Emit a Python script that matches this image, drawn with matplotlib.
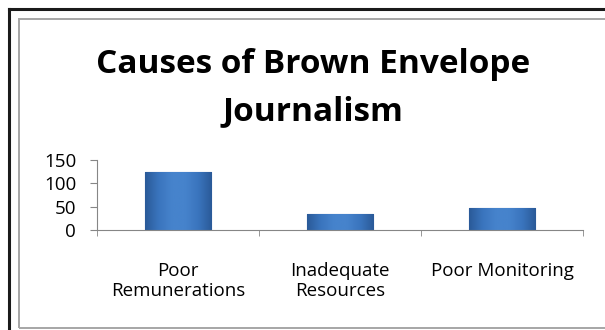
import numpy as np
import matplotlib.pyplot as plt
from matplotlib.patches import Rectangle
from matplotlib.lines import Line2D
from matplotlib.colors import LinearSegmentedColormap

categories = ['Poor\nRemunerations', 'Inadequate\nResources', 'Poor Monitoring']
counts = [125, 35, 48]
y_ticks = [0, 50, 100, 150]

plt.rcParams['font.family'] = ['Open Sans', 'DejaVu Sans']

W, H = 605, 330
fig = plt.figure(figsize=(W / 100, H / 100), dpi=100)

# Frames around the chart (black outer, grey inner).
fig.add_artist(Line2D([8.5 / W, 8.5 / W], [0, 1 - 8.5 / H], color='#1a1a1a', lw=2.2))
fig.add_artist(Line2D([8.5 / W, 1], [1 - 8.5 / H, 1 - 8.5 / H], color='#1a1a1a', lw=2.2))
fig.add_artist(Rectangle((18.5 / W, 2 / H), 1.2, 1 - 20.5 / H, transform=fig.transFigure,
                         fill=False, edgecolor='#a6a6a6', lw=1.4))

ax = fig.add_axes([97 / W, 1 - 230 / H, (583 - 97) / W, 70 / H])
x = list(range(len(categories)))
bars = ax.bar(x, counts, width=0.41, color='#3d77c2', edgecolor='#2b5b96', linewidth=0.8)

# Bevelled look: horizontal gradient clipped to each bar.
cmap = LinearSegmentedColormap.from_list(
    'bevel', ['#2a5a98', '#3a74bd', '#4683cc', '#4683cc', '#3a74bd', '#2a5a98'])
grad = np.linspace(0, 1, 256).reshape(1, -1)
for b in bars:
    im = ax.imshow(grad, cmap=cmap, aspect='auto', zorder=b.get_zorder() + 0.1,
                   extent=[b.get_x(), b.get_x() + b.get_width(), 0, b.get_height()])
    im.set_clip_path(b)
ax.set_aspect('auto')

ax.set_xlim(-0.5, len(categories) - 0.5)
ax.set_ylim(0, 150)
ax.set_yticks(y_ticks)
ax.set_xticks(x)
ax.set_xticklabels(categories, fontsize=13.5, linespacing=1.15)
ax.set_xticks([-0.5, 0.5, 1.5, 2.5], minor=True)
ax.tick_params(axis='x', which='major', length=0, pad=23)
ax.tick_params(axis='x', which='minor', length=4.5, color='#868686', direction='out')
ax.tick_params(axis='y', labelsize=13.5, length=5, color='#868686', pad=10)
for side in ['top', 'right']:
    ax.spines[side].set_visible(False)
for side in ['left', 'bottom']:
    ax.spines[side].set_color('#868686')

fig.text(313 / W, 1 - 73 / H, 'Causes of Brown Envelope', ha='center', va='baseline',
         fontsize=24, fontweight='bold')
fig.text(313 / W, 1 - 120 / H, 'Journalism', ha='center', va='baseline',
         fontsize=24, fontweight='bold')

fig.savefig('out.png', dpi=100)
